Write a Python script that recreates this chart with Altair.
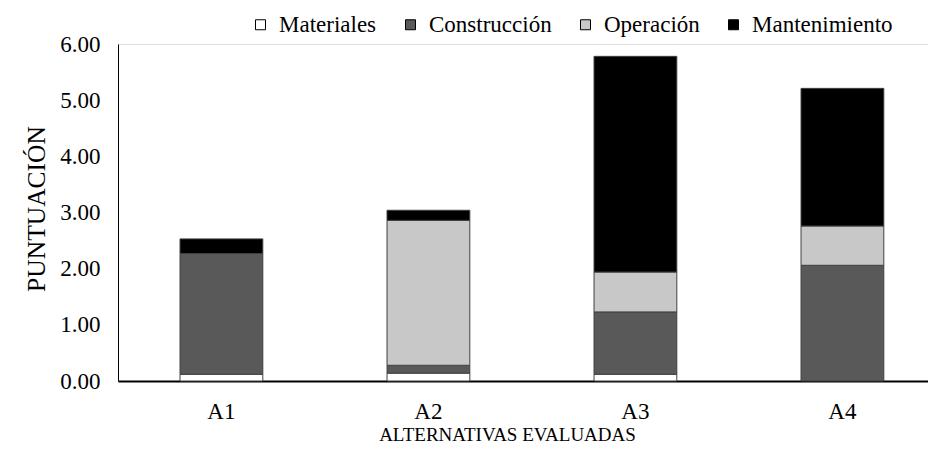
import altair as alt
import pandas as pd

alternativas = ["A1", "A2", "A3", "A4"]
componentes = ["Materiales", "Construcción", "Operación", "Mantenimiento"]
materiales = [0.12, 0.14, 0.12, 0.00]
construccion = [2.15, 0.14, 1.11, 2.06]
operacion = [0.00, 2.58, 0.71, 0.70]
mantenimiento = [0.26, 0.18, 3.84, 2.45]
colores = ["#ffffff", "#595959", "#c8c8c8", "#000000"]
y_ticks = [0, 1, 2, 3, 4, 5, 6]

rows = []
for serie_idx, (comp, vals) in enumerate(zip(componentes, [materiales, construccion, operacion, mantenimiento])):
    for alt_name, v in zip(alternativas, vals):
        if v > 0:
            rows.append({"alt": alt_name, "comp": comp, "val": v, "idx": serie_idx})
df = pd.DataFrame(rows)

FONT = "Liberation Serif"

chart = alt.Chart(df).mark_bar(stroke="#404040", strokeWidth=1).encode(
    x=alt.X("alt:N", sort=alternativas,
            scale=alt.Scale(paddingInner=0.6, paddingOuter=0.2565, align=0.584),
            axis=alt.Axis(title="ALTERNATIVAS EVALUADAS", labelAngle=0, ticks=False,
                          labelPadding=19, labelFontSize=23, labelFont=FONT, labelColor="black",
                          domainColor="black", domainWidth=2,
                          titleFont=FONT, titleFontSize=19, titleFontWeight="normal", titleColor="black",
                          titleX=389, titleY=59, titleBaseline="alphabetic", titleAlign="center")),
    y=alt.Y("val:Q", stack="zero",
            scale=alt.Scale(domain=[0, 6], nice=False),
            axis=alt.Axis(title="PUNTUACIÓN", values=y_ticks, format=".2f", ticks=False, grid=False,
                          labelPadding=18, labelFontSize=23, labelFont=FONT, labelColor="black",
                          domainColor="black", domainWidth=1,
                          titleFont=FONT, titleFontSize=25.5, titleFontWeight="normal", titleColor="black",
                          titleAngle=-90, titleX=-81.5, titleY=164.5, titleBaseline="middle", titleAlign="center")),
    color=alt.Color("comp:N", sort=componentes,
                    scale=alt.Scale(domain=componentes, range=colores),
                    legend=alt.Legend(title=None, orient="none", direction="horizontal",
                                      legendX=131, legendY=-31, padding=0,
                                      symbolType="square", symbolSize=100, symbolStrokeColor="black",
                                      symbolStrokeWidth=1, symbolOpacity=1,
                                      labelFont=FONT, labelFontSize=23, labelColor="black",
                                      labelOffset=7, columnPadding=22)),
    order=alt.Order("idx:Q", sort="ascending"),
).properties(
    width=810, height=337,
    autosize=alt.AutoSizeParams(type="none"),
    padding={"left": 110, "top": 36, "right": 0, "bottom": 64},
).configure_view(stroke=None).configure(background="white")

chart.save("out.html", embed_options={"renderer": "svg", "actions": False})
